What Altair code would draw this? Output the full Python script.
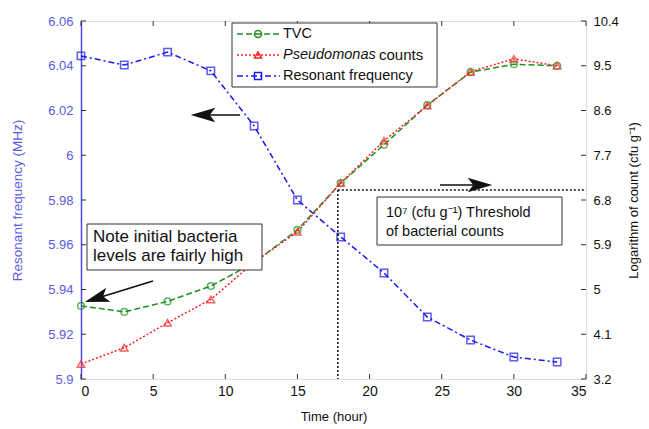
import altair as alt
import pandas as pd
import math

# ---------------- data ----------------
time_h = [0, 3, 6, 9, 12, 15, 18, 21, 24, 27, 30, 33]
resonant = [6.0444, 6.0403, 6.0461, 6.0377, 6.0131, 5.9800, 5.9635, 5.9474, 5.9277, 5.9174, 5.9098, 5.9076]
tvc = [4.67, 4.55, 4.76, 5.07, 5.54, 6.20, 7.14, 7.91, 8.71, 9.37, 9.53, 9.50]
pseudo = [3.50, 3.83, 4.33, 4.80, 5.55, 6.16, 7.14, 7.99, 8.70, 9.38, 9.64, 9.50]

x_ticks = [0, 5, 10, 15, 20, 25, 30, 35]
left_ticks = [5.9, 5.92, 5.94, 5.96, 5.98, 6.0, 6.02, 6.04, 6.06]
right_ticks = [3.2, 4.1, 5, 5.9, 6.8, 7.7, 8.6, 9.5, 10.4]

threshold_time = 17.8
threshold_log = 7.0

series_names = ["TVC", "Pseudomonas counts", "Resonant frequency"]
series_colors = ["#209020", "#ff2222", "#1a1aee"]
series_dash = [[6, 3], [2, 2], [6, 3, 2, 3]]
series_shape = ["circle", "triangle-up", "square"]

FONT = "Liberation Sans"
LBLUE = "#5a5ae0"
W, H = 505, 358

df = pd.DataFrame({"t": time_h, "res": resonant, "tvc": tvc, "pse": pseudo})
one = pd.DataFrame({"a": [0]})

xs = alt.Scale(domain=[0, 35], nice=False, zero=False)
ys_left = alt.Scale(domain=[5.9, 6.06], nice=False, zero=False)
ys_right = alt.Scale(domain=[3.2, 10.4], nice=False, zero=False)

x_enc = alt.X("t:Q", scale=xs, axis=alt.Axis(
    values=x_ticks, ticks=False, grid=False, domain=False, labelFontSize=14,
    labelColor="#111", labelPadding=5, title="Time (hour)", titleFontSize=13,
    titleFontWeight="normal", titleColor="#111", titleY=37, titleBaseline="middle",
    labelFont=FONT, titleFont=FONT))

# ---------- left (resonant) ----------
res_line = alt.Chart(df).mark_line(color=series_colors[2], strokeDash=series_dash[2], strokeWidth=1.5).encode(
    x=x_enc,
    y=alt.Y("res:Q", scale=ys_left, axis=alt.Axis(
        orient="left", values=left_ticks, format=".4~g", ticks=False, grid=False,
        labelColor=LBLUE, labelFontSize=13, labelPadding=8, labelFont=FONT,
        title="Resonant frequency (MHz)", titleColor=LBLUE, titleFontSize=13.5,
        titleFontWeight="normal", titleFont=FONT, titleX=-64, titleY=H / 2,
        titleBaseline="middle", titleAlign="center",
        domainColor="#4a4aee", domainWidth=1.5)))
res_pts = alt.Chart(df).mark_point(shape="square", color=series_colors[2], size=55, strokeWidth=1.5, filled=False).encode(
    x=alt.X("t:Q", scale=xs), y=alt.Y("res:Q", scale=ys_left))
left_tick_df = pd.DataFrame({"v": left_ticks})
left_tk = alt.Chart(left_tick_df).mark_rule(color="#333", strokeWidth=1).encode(
    y=alt.Y("v:Q", scale=ys_left), x=alt.value(0), x2=alt.value(5))
left = alt.layer(res_line, res_pts, left_tk)

# ---------- right (counts) ----------
tvc_line = alt.Chart(df).mark_line(color=series_colors[0], strokeDash=series_dash[0], strokeWidth=1.5).encode(
    x=alt.X("t:Q", scale=xs),
    y=alt.Y("tvc:Q", scale=ys_right, axis=alt.Axis(
        orient="right", values=right_ticks, format=".3~g", ticks=False, grid=False,
        labelColor="#111", labelFontSize=13, labelPadding=7, labelFont=FONT,
        title="Logarithm of count (cfu g⁻¹)", titleColor="#111", titleFontSize=13,
        titleFontWeight="normal", titleFont=FONT, titleAngle=270, titleX=47, titleY=H / 2,
        titleBaseline="middle", titleAlign="center", domain=False)))
tvc_pts = alt.Chart(df).mark_point(shape="circle", color=series_colors[0], size=45, strokeWidth=1.5, filled=False).encode(
    x=alt.X("t:Q", scale=xs), y=alt.Y("tvc:Q", scale=ys_right))
pse_line = alt.Chart(df).mark_line(color=series_colors[1], strokeDash=series_dash[1], strokeWidth=1.5).encode(
    x=alt.X("t:Q", scale=xs), y=alt.Y("pse:Q", scale=ys_right))
pse_pts = alt.Chart(df).mark_point(shape="triangle-up", color=series_colors[1], size=55, strokeWidth=1.5, filled=False).encode(
    x=alt.X("t:Q", scale=xs), y=alt.Y("pse:Q", scale=ys_right))

thr_df = pd.DataFrame({"t0": [threshold_time], "t1": [35], "y": [threshold_log], "y0": [3.2]})
thr_h = alt.Chart(thr_df).mark_rule(color="#111", strokeDash=[2, 2], strokeWidth=1.5).encode(
    x=alt.X("t0:Q", scale=xs), x2="t1:Q", y=alt.Y("y:Q", scale=ys_right))
thr_v = alt.Chart(thr_df).mark_rule(color="#111", strokeDash=[2, 2], strokeWidth=1.5).encode(
    x=alt.X("t0:Q", scale=xs), y=alt.Y("y:Q", scale=ys_right), y2="y0:Q")
right_tick_df = pd.DataFrame({"v": right_ticks})
right_tk = alt.Chart(right_tick_df).mark_rule(color="#333", strokeWidth=1).encode(
    y=alt.Y("v:Q", scale=ys_right), x=alt.value(W - 5), x2=alt.value(W))
right = alt.layer(tvc_line, thr_h, thr_v, pse_line, tvc_pts, pse_pts, right_tk)

# ---------- decorations (pixel space) ----------
deco = []
xt_df = pd.DataFrame({"v": x_ticks})
deco.append(alt.Chart(xt_df).mark_rule(color="#333").encode(
    x=alt.X("v:Q", scale=xs), y=alt.value(H - 5), y2=alt.value(H)))
deco.append(alt.Chart(xt_df).mark_rule(color="#333").encode(
    x=alt.X("v:Q", scale=xs), y=alt.value(0), y2=alt.value(5)))


def box(x0, x1, y0, y1):
    return alt.Chart(one).mark_rect(fill="white", stroke="#333", strokeWidth=1).encode(
        x=alt.value(x0), x2=alt.value(x1), y=alt.value(y0), y2=alt.value(y1))


def txt(s, x, y, size=14.5, style="normal", align="left"):
    return alt.Chart(one).mark_text(text=s, font=FONT, fontSize=size, fontStyle=style, align=align,
                                    baseline="middle", color="#111").encode(x=alt.value(x), y=alt.value(y))


OX, OY = 81, 21
# legend
deco.append(box(232 - OX, 437 - OX, 23 - OY, 87 - OY))
rows = [34, 55, 76]
for i in range(3):
    y = rows[i] - OY
    deco.append(alt.Chart(one).mark_rule(color=series_colors[i], strokeDash=series_dash[i], strokeWidth=1.5).encode(
        x=alt.value(237 - OX), x2=alt.value(280 - OX), y=alt.value(y)))
    deco.append(alt.Chart(one).mark_point(shape=series_shape[i], color=series_colors[i], size=50,
                                          strokeWidth=1.5, filled=False, opacity=1).encode(
        x=alt.value(258 - OX), y=alt.value(y)))
deco.append(txt("TVC", 283 - OX, rows[0] - OY))
deco.append(txt("Pseudomonas", 283 - OX, rows[1] - OY, size=14.5, style="italic"))
deco.append(txt("counts", 379 - OX, rows[1] - OY, size=15))
deco.append(txt("Resonant frequency", 283 - OX, rows[2] - OY))

# note box
deco.append(box(87 - OX, 262 - OX, 224 - OY, 270 - OY))
deco.append(txt("Note initial bacteria", 93 - OX, 237 - OY, size=17))
deco.append(txt("levels are fairly high", 93 - OX, 256 - OY, size=17))
# threshold box
deco.append(box(377 - OX, 562 - OX, 197 - OY, 245 - OY))
deco.append(txt("10⁷ (cfu g⁻¹) Threshold", 386 - OX, 213 - OY, size=14.5))
deco.append(txt("of bacterial counts", 386 - OX, 232 - OY, size=14.5))

ARROW = "M1,0 L-1,-0.6 L-0.55,0 L-1,0.6 Z"


def arrow(x0, y0, x1, y1, ang):
    r = alt.Chart(one).mark_rule(color="#111", strokeWidth=1.5).encode(
        x=alt.value(x0 - OX), x2=alt.value(x1 - OX), y=alt.value(y0 - OY), y2=alt.value(y1 - OY))
    d = math.hypot(x1 - x0, y1 - y0)
    ux, uy = (x1 - x0) / d, (y1 - y0) / d
    h = alt.Chart(one).mark_point(shape=ARROW, filled=True, color="#111", size=600, angle=ang, opacity=1).encode(
        x=alt.value(x1 - OX - ux * 9), y=alt.value(y1 - OY - uy * 9))
    return [r, h]


deco += arrow(240, 115, 194, 115, 180)
deco += arrow(440, 185, 489, 185, 0)
deco += arrow(153, 281, 88, 301, 163)

chart = alt.layer(left, right, *deco).resolve_scale(y="independent").properties(
    width=W, height=H,
    autosize=alt.AutoSizeParams(type="none"),
    padding={"left": 81, "top": 21, "right": 63, "bottom": 50},
).configure_view(stroke="#555", strokeWidth=1).configure(background="white")

chart.save("out.html", embed_options={"renderer": "svg", "actions": False})
